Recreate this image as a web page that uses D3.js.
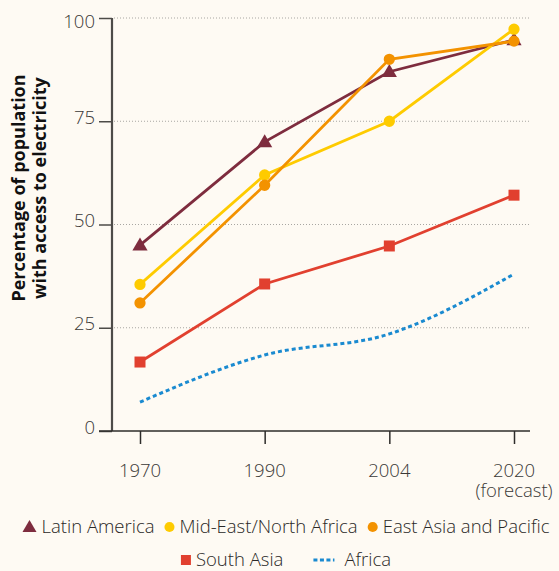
<!DOCTYPE html>
<html>
<head>
<meta charset="utf-8">
<script src="https://cdn.jsdelivr.net/npm/d3@7"></script>
<style>
	html, body { margin: 0; padding: 0; background: #fefaf3; }
	svg { display: block; font-family: "Open Sans", "DejaVu Sans", sans-serif; }
</style>
</head>
<body>
<div id="chart"></div>
<script>
// categories and values
var years = ["1970", "1990", "2004", "2020"];
var yearLabels = [["1970"], ["1990"], ["2004"], ["2020", "(forecast)"]];
var yTicks = [0, 25, 50, 75, 100];

var seriesNames = ["Latin America", "Mid-East/North Africa", "East Asia and Pacific", "South Asia", "Africa"];
var latinAmerica = [45, 70, 87, 94.7];
var midEast = [35.5, 62, 75, 97.3];
var eastAsia = [31, 59.5, 90, 94.4];
var southAsia = [16.7, 35.6, 44.8, 57.1];
var africa = [7, 18.4, 23.5, 38];

var colors = ["#7e2c3e", "#fecb00", "#f39200", "#e1402f", "#1a8ad0"];
var symbols = ["triangle", "circle", "circle", "square", "dash"];

var width = 559,
	height = 571,
	plotLeft = 112,
	plotRight = 530,
	plotTop = 18,
	plotBottom = 431,
	fontSize = 18.5;

var svg = d3.select("#chart").append("svg")
	.attr("width", width)
	.attr("height", height);

svg.append("rect")
	.attr("width", width)
	.attr("height", height)
	.attr("fill", "#fefaf3");

var x = d3.scalePoint()
	.domain(years)
	.range([140, 514]);

var y = d3.scaleLinear()
	.domain([0, 100])
	.range([plotBottom, plotTop]);

// dotted grid
svg.append("g")
	.selectAll("line")
	.data(yTicks.filter(function (d) { return d > 0; }))
	.join("line")
	.attr("x1", plotLeft + 2)
	.attr("x2", plotRight)
	.attr("y1", function (d) { return y(d); })
	.attr("y2", function (d) { return y(d); })
	.attr("stroke", "#a8a6a2")
	.attr("stroke-width", 1)
	.attr("stroke-dasharray", "1,2");

// y axis
var yAxis = svg.append("g")
	.attr("transform", "translate(" + plotLeft + ",0)")
	.call(d3.axisLeft(y).tickValues(yTicks).tickSize(13).tickPadding(4));

yAxis.select(".domain").attr("stroke", "#4d4b48").attr("stroke-width", 2.2)
	.attr("d", "M0," + plotTop + "V" + plotBottom);
yAxis.selectAll(".tick line").attr("stroke", "#4d4b48").attr("stroke-width", 1.5);
yAxis.selectAll(".tick text")
	.attr("dy", function (d) { return d == 100 ? "9px" : "2px"; })
	.attr("font-size", fontSize)
	.attr("font-weight", 300)
	.attr("fill", "#3a3836")
	.attr("font-family", "'Open Sans', sans-serif");

// x axis
var xAxis = svg.append("g")
	.attr("transform", "translate(0," + plotBottom + ")")
	.call(d3.axisBottom(x).tickSize(13).tickFormat(""));

xAxis.select(".domain").attr("stroke", "#2e2c2a").attr("stroke-width", 1.6)
	.attr("d", "M99,0H" + plotRight);
xAxis.selectAll(".tick line").attr("stroke", "#2e2c2a").attr("stroke-width", 1.5);

svg.append("g")
	.selectAll("text")
	.data(years)
	.join("text")
	.attr("x", function (d) { return x(d); })
	.attr("y", 477)
	.attr("text-anchor", "middle")
	.attr("font-size", fontSize)
	.attr("font-weight", 300)
	.attr("fill", "#3a3836")
	.selectAll("tspan")
	.data(function (d, i) { return yearLabels[i]; })
	.join("tspan")
	.attr("x", function () { return x(d3.select(this.parentNode).datum()); })
	.attr("dy", function (d, i) { return i ? 20 : 0; })
	.text(function (d) { return d; });

// axis title
var title = svg.append("text")
	.attr("transform", "translate(25,188) rotate(-90)")
	.attr("text-anchor", "middle")
	.attr("font-size", 18)
	.attr("font-weight", 700)
	.attr("fill", "#111");
title.append("tspan").attr("x", 0).attr("dy", 0).text("Percentage of population");
title.append("tspan").attr("x", 0).attr("dy", 21).text("with access to electricity");

// series
var allSeries = [latinAmerica, midEast, eastAsia, southAsia, africa];

var line = d3.line()
	.x(function (d, i) { return x(years[i]); })
	.y(function (d) { return y(d); });

var smooth = d3.line()
	.x(function (d, i) { return x(years[i]); })
	.y(function (d) { return y(d); })
	.curve(d3.curveMonotoneX);

function symbolPath(kind) {
	if (kind == "triangle") return d3.symbol(d3.symbolTriangle, 100)();
	if (kind == "square") return d3.symbol(d3.symbolSquare, 121)();
	return d3.symbol(d3.symbolCircle, 100)();
}

allSeries.forEach(function (vals, s) {
	var g = svg.append("g");
	if (symbols[s] == "dash") {
		g.append("path")
			.attr("d", smooth(vals))
			.attr("fill", "none")
			.attr("stroke", colors[s])
			.attr("stroke-width", 3)
			.attr("stroke-dasharray", "4,3");
		return;
	}
	g.append("path")
		.attr("d", line(vals))
		.attr("fill", "none")
		.attr("stroke", colors[s])
		.attr("stroke-width", 2.8);
	g.selectAll("path.mk")
		.data(vals)
		.join("path")
		.attr("class", "mk")
		.attr("transform", function (d, i) {
			return "translate(" + x(years[i]) + "," + (y(d) + (symbols[s] == "triangle" ? 1 : 0)) + ")";
		})
		.attr("d", symbolPath(symbols[s]))
		.attr("fill", colors[s]);
});

// legend, two centred rows
var legendRows = [[0, 1, 2], [3, 4]];
var legendY = [527, 560];
var legendGap = [10, 30];

legendRows.forEach(function (row, r) {
	var g = svg.append("g");
	var cx = 0;
	row.forEach(function (s) {
		var item = g.append("g").attr("transform", "translate(" + cx + ",0)");
		var mw;
		if (symbols[s] == "dash") {
			item.append("line")
				.attr("x1", 0).attr("x2", 21)
				.attr("y1", 0).attr("y2", 0)
				.attr("stroke", colors[s])
				.attr("stroke-width", 3)
				.attr("stroke-dasharray", "4,2.5");
			mw = 21;
		} else {
			var p = symbols[s] == "triangle" ? d3.symbol(d3.symbolTriangle, 85)()
				: symbols[s] == "square" ? d3.symbol(d3.symbolSquare, 100)()
				: d3.symbol(d3.symbolCircle, 80)();
			mw = symbols[s] == "triangle" ? 14 : 10;
			item.append("path")
				.attr("d", p)
				.attr("transform", "translate(" + (mw / 2) + "," + (symbols[s] == "triangle" ? 1 : 0) + ")")
				.attr("fill", colors[s]);
		}
		var t = item.append("text")
			.attr("x", mw + (symbols[s] == "dash" ? 10 : 5))
			.attr("y", 6)
			.attr("font-size", fontSize)
			.attr("font-weight", 300)
			.attr("fill", "#2a2826")
			.text(seriesNames[s]);
		cx += mw + (symbols[s] == "dash" ? 10 : 5) + t.node().getComputedTextLength() + legendGap[r];
	});
	var w = cx - legendGap[r];
	g.attr("transform", "translate(" + (286 - w / 2) + "," + legendY[r] + ")");
});
</script>
</body>
</html>
